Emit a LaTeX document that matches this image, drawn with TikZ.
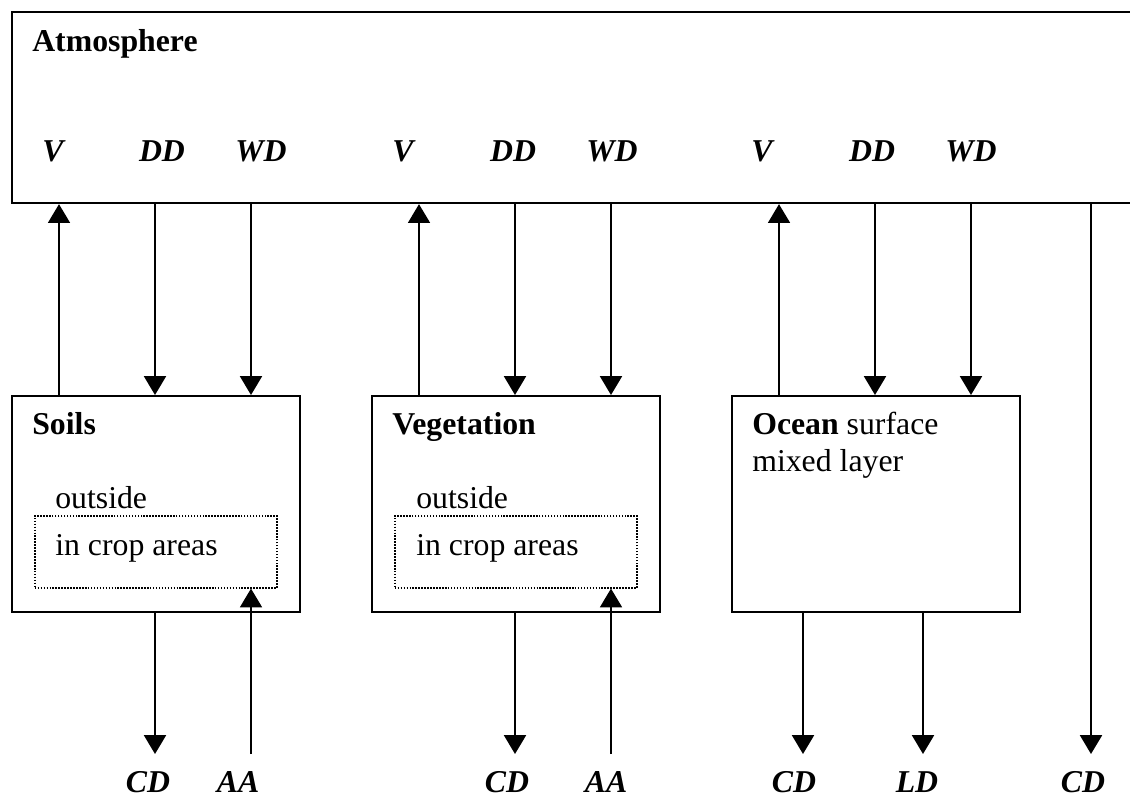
\documentclass[tikz,border=0pt]{standalone}
\usepackage{fontspec}
\setmainfont{Liberation Serif}
\usetikzlibrary{calc, arrows.meta}

\begin{document}
\fontsize{22.6}{26}\selectfont
\begin{tikzpicture}[x=0.025cm, y=-0.025cm]
			\tikzstyle{box} = [draw=black, line width=1.5pt, rectangle, minimum width=7.2cm, minimum height=5.4cm, inner sep=0pt, anchor=north west]
			\tikzstyle{crop} = [draw=black, densely dotted, line width=1.1pt, rectangle, minimum width=6.05cm, minimum height=1.8cm, inner sep=0pt, anchor=north west]
			\tikzstyle{arrow} = [line width=1.2pt, -{Triangle[width=0.55cm, length=0.47cm]}]
			\tikzstyle{flux} = [font=\bfseries\itshape, anchor=base, inner sep=0pt]
			\tikzstyle{title} = [font=\bfseries, anchor=base west, inner sep=0pt]
			\tikzstyle{txt} = [anchor=base west, inner sep=0pt]
			
			\useasboundingbox (0,0) rectangle (1130,799);
			
			\node[box, minimum width=28.6cm, minimum height=4.775cm] at (11,11) (atm) {};
			\node[box]	at (11,395)		(soil)	{};
			\node[box]	at (371,395)	(veg)	{};
			\node[box]	at (731,395)	(ocean)	{};
			\node[crop]	at (34,515)		(soilcrop)	{};
			\node[crop]	at (394,515)	(vegcrop)	{};
			
			\node[title]	at (32,52)		(atmtitle)		{Atmosphere};
			\node[title]	at (32,435)		(soiltitle)		{Soils};
			\node[title]	at (392,435)	(vegtitle)		{Vegetation};
			\node[txt]		at (752,435)	(oceantitle)	{\textbf{Ocean} surface};
			\node[txt]		at (752,472)	(oceantitle2)	{mixed layer};
			\node[txt]		at (55,508)		(soilout)		{outside};
			\node[txt]		at (55,555)		(soilin)		{in crop areas};
			\node[txt]		at (416,508)	(vegout)		{outside};
			\node[txt]		at (416,555)	(vegin)			{in crop areas};
			
			\foreach \x/\t in {53/V, 162/DD, 261/WD, 403/V, 513/DD, 612/WD, 762/V, 872/DD, 971/WD}
				\node[flux] at (\x,162) (up\x) {\t};
			\foreach \x/\t in {148/CD, 238/AA, 507/CD, 606/AA, 794/CD, 917/LD, 1083/CD}
				\node[flux] at (\x,792) (down\x) {\t};
			
			\coordinate (base) at (0,754);
			\coordinate (side) at (1091,0);
			
			% exchange with the atmosphere
			\foreach \b in {soil, veg, ocean} {
				\path ($(\b.north west)+(48,0)$) coordinate (v)
				      ($(\b.north west)+(144,0)$) coordinate (dd)
				      ($(\b.north west)+(240,0)$) coordinate (wd);
				\draw [arrow] (v) -- (v |- atm.south);
				\draw [arrow] (dd |- atm.south) -- (dd);
				\draw [arrow] (wd |- atm.south) -- (wd);
			}
			
			% fluxes below
			\foreach \b/\c in {soil/soilcrop, veg/vegcrop} {
				\path ($(\b.south west)+(144,0)$) coordinate (cd)
				      ($(\b.south west)+(240,0)$) coordinate (aa);
				\draw [arrow] (cd) -- (cd |- base);
				\draw [arrow] (aa |- base) -- (aa |- \c.south);
			}
			\path ($(ocean.south west)+(72,0)$) coordinate (cd)
			      ($(ocean.south west)+(192,0)$) coordinate (ld);
			\draw [arrow] (cd) -- (cd |- base);
			\draw [arrow] (ld) -- (ld |- base);
			\draw [arrow] (side |- atm.south) -- (side |- base);
		\end{tikzpicture}
\end{document}
